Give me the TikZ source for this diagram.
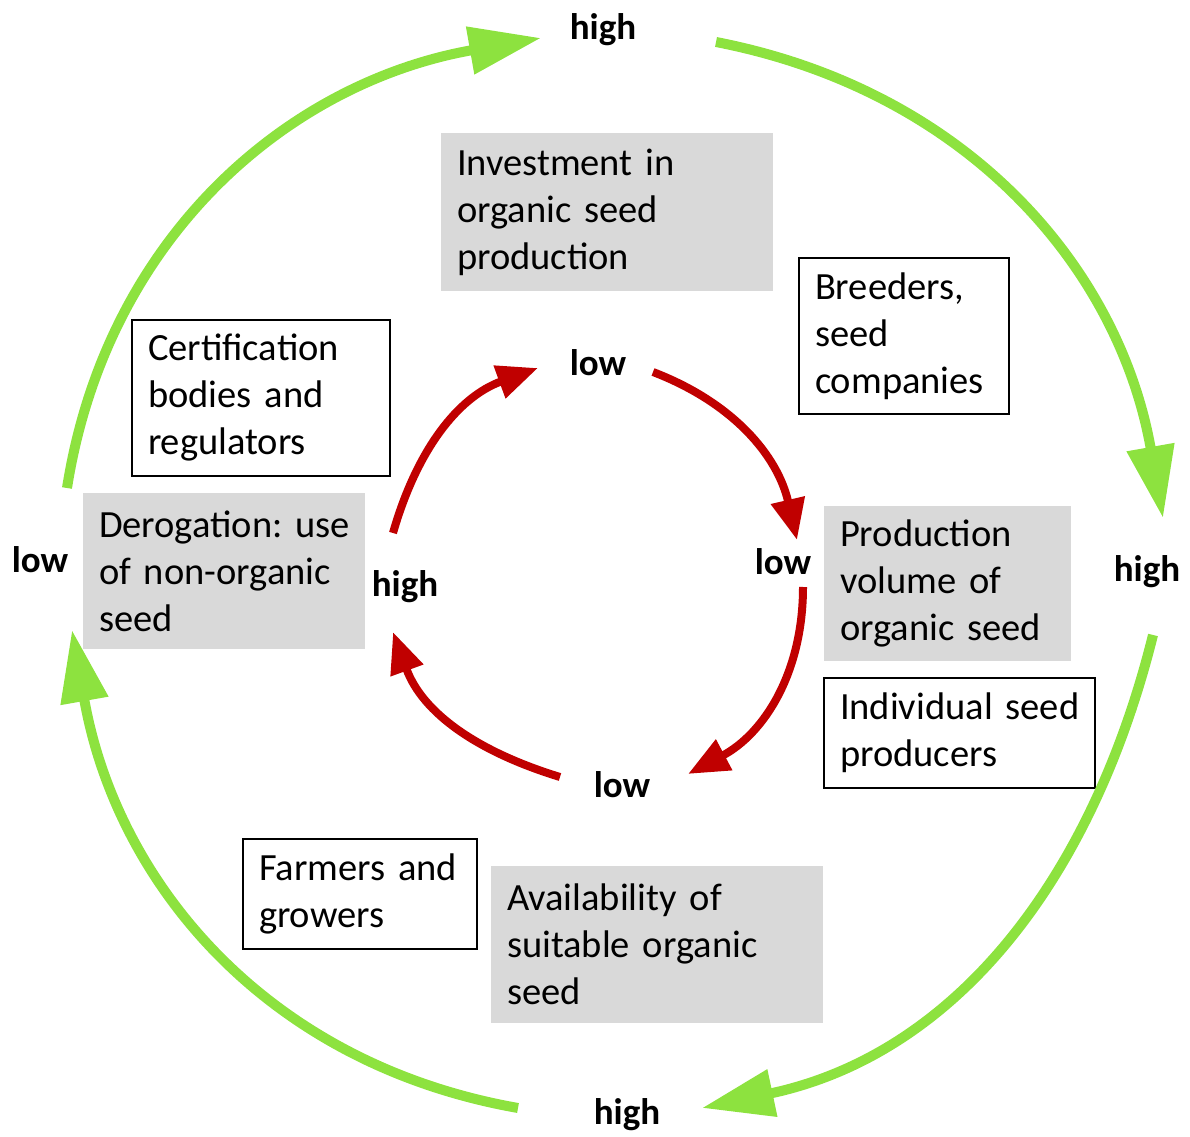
\documentclass[tikz,border=0pt]{standalone}
\usepackage{fontspec}
\setmainfont{Carlito}
\usetikzlibrary{arrows.meta}
\definecolor{loopgreen}{RGB}{141,226,63}
\definecolor{loopred}{RGB}{192,0,0}
\definecolor{boxgray}{RGB}{217,217,217}
\begin{document}
\begin{tikzpicture}[x=1pt,y=1pt,
  level/.style={font=\fontsize{37}{44}\selectfont\bfseries},
  graybox/.style={fill=boxgray,align=left,inner xsep=16pt,inner ysep=0pt,font=\fontsize{38.5}{47}\selectfont},
  linebox/.style={graybox,fill=none,draw=black,line width=1.5pt},
  outer/.style={draw=loopgreen,line width=10pt,-{Triangle[length=72pt,width=46pt]}},
  inner/.style={draw=loopred,line width=8pt,-{Triangle[length=41pt,width=33pt]}}]
\useasboundingbox (0,0) rectangle (1190,1136);
% boxes
\node[graybox,text width=300pt,minimum height=158pt] (invest) at (607,924) {Investment~in\\organic~seed\\production};
\node[linebox,text width=178pt,minimum height=156pt] (breeders) at (904,800) {Breeders,\\seed\\companies};
\node[linebox,text width=226pt,minimum height=156pt] (cert) at (261,738) {Certification\\bodies~and\\regulators};
\node[graybox,text width=250pt,minimum height=156pt] (derog) at (224,565) {Derogation:~use\\of~non-organic\\seed};
\node[graybox,text width=215pt,minimum height=155pt] (volume) at (947.5,552.5) {Production\\volume~of\\organic~seed};
\node[linebox,text width=239pt,minimum height=110pt] (indiv) at (959.5,403) {Individual~seed\\producers};
\node[linebox,text width=202pt,minimum height=110pt] (farmers) at (360,242) {Farmers~and\\growers};
\node[graybox,text width=300pt,minimum height=157pt] (avail) at (657,191.5) {Availability~of\\suitable~organic\\seed};
% outer loop labels
\node[level] (hightop) at (603,1106) {high};
\node[level] (highright) at (1147,564) {high};
\node[level] (highbottom) at (627,21) {high};
\node[level] (lowleft) at (40,576) {low};
% inner loop labels
\node[level] (lowtop) at (598,773) {low};
\node[level] (lowright) at (783,574) {low};
\node[level] (lowbottom) at (622,351) {low};
\node[level] (highleft) at (405,549) {high};
% outer loop
\coordinate (g1s) at (67,648);   \coordinate (g1e) at (541,1098);
\coordinate (g2s) at (716,1094); \coordinate (g2e) at (1163,618);
\coordinate (g3s) at (1153,501); \coordinate (g3e) at (702,28);
\coordinate (g4s) at (518,28);   \coordinate (g4e) at (72,506);
\draw[outer] (g1s) to[out=81,in=190] (g1e);
\draw[outer] (g2s) to[out=-11,in=100] (g2e);
\draw[outer] (g3s) to[out=-104,in=12] (g3e);
\draw[outer] (g4s) to[out=170,in=-80] (g4e);
% inner loop
\coordinate (r1s) at (393,603); \coordinate (r1e) at (538,768);
\coordinate (r2s) at (653,764); \coordinate (r2e) at (797,596);
\coordinate (r3s) at (803,549); \coordinate (r3e) at (688,362);
\coordinate (r4s) at (560,359); \coordinate (r4e) at (393,504);
\draw[inner] (r1s) to[out=74,in=200] (r1e);
\draw[inner] (r2s) to[out=-21,in=103] (r2e);
\draw[inner] (r3s) to[out=-90,in=28] (r3e);
\draw[inner] (r4s) to[out=163,in=-70] (r4e);
\end{tikzpicture}
\end{document}
